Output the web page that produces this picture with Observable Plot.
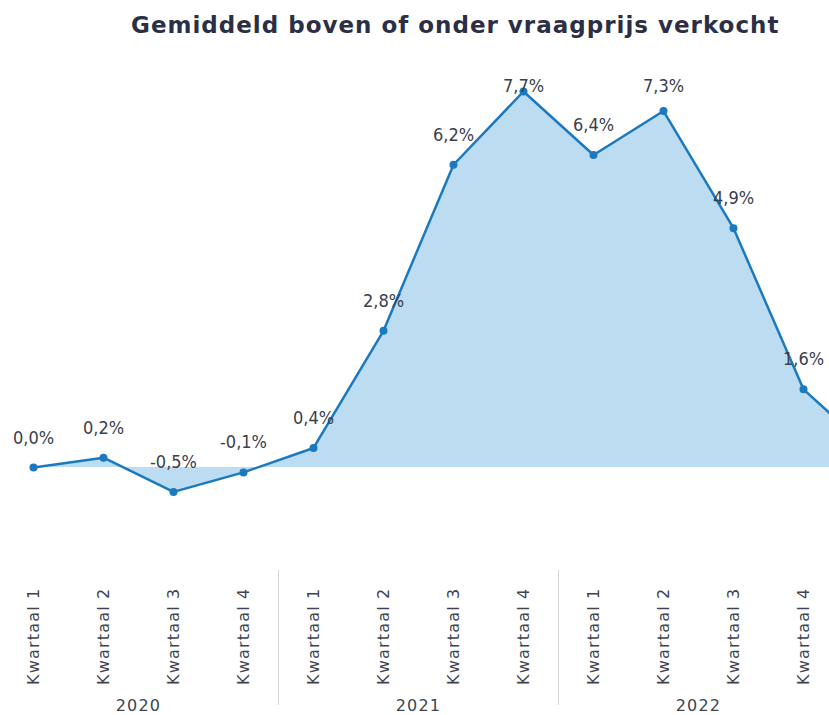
<!DOCTYPE html>
<html>
<head>
<meta charset="utf-8">
<script src="https://cdn.jsdelivr.net/npm/d3@7"></script>
<script src="https://cdn.jsdelivr.net/npm/@observablehq/plot@0.6"></script>
<style>
  html, body { margin: 0; padding: 0; background: white; overflow: hidden; }
  #title {
    height: 55px; line-height: 51px; padding-left: 131px;
    font-family: "DejaVu Sans", sans-serif; font-weight: bold; font-size: 23px;
    letter-spacing: 1px; color: #2b2f45; white-space: nowrap;
  }
  svg [aria-label="x-axis tick label"] text { letter-spacing: 1.2px; }
</style>
</head>
<body>
<div id="title">Gemiddeld boven of onder vraagprijs verkocht</div>
<div id="chart"></div>
<script>
// Data (2020 K1 … 2023 K1; last point lies beyond the right edge)
const quarters = ["Kwartaal 1","Kwartaal 2","Kwartaal 3","Kwartaal 4",
                  "Kwartaal 1","Kwartaal 2","Kwartaal 3","Kwartaal 4",
                  "Kwartaal 1","Kwartaal 2","Kwartaal 3","Kwartaal 4",
                  "Kwartaal 1"];
const years = ["2020","2020","2020","2020",
               "2021","2021","2021","2021",
               "2022","2022","2022","2022",
               "2023"];
const values = [0.0, 0.2, -0.5, -0.1, 0.4, 2.8, 6.2, 7.7, 6.4, 7.3, 4.9, 1.6, 0.3];

const data = values.map((v, i) => ({i, q: quarters[i], year: years[i], v}));
const visible = data.filter(d => d.i < 12);
const yearGroups = d3.groups(visible, d => d.year).map(([year, ds]) => ({year, x: d3.mean(ds, d => d.i)}));
const separators = visible.filter((d, k) => k > 0 && d.year !== visible[k - 1].year).map(d => d.i - 0.5);

const fmt = v => d3.format(".1f")(v).replace(".", ",").replace("−", "-") + "%";
const blue = "#1a79bf";
const numFont = "'DejaVu Sans Condensed', 'DejaVu Sans', sans-serif";
const axisFont = "'DejaVu Sans', sans-serif";

const yTop = 36, yZero = 412, yMax = d3.max(values);
const pxPerUnit = (yZero - yTop) / yMax;
const labelOffset = 24;
const labelCeil = yMax - labelOffset / pxPerUnit; // labels cannot rise above the top

const chart = Plot.plot({
  width: 829,
  height: 660,
  marginTop: 0, marginRight: 0, marginLeft: 0, marginBottom: 132,
  x: {type: "linear", domain: [0, 11], range: [33, 803], axis: null, label: null},
  y: {domain: [0, yMax], range: [yZero, yTop], axis: null, label: null},
  style: {background: "white", overflow: "hidden"},
  marks: [
    Plot.areaY(data, {x: "i", y1: 0, y2: "v", fill: "#bcdcf1", clip: true}),
    Plot.lineY(data, {x: "i", y: "v", stroke: blue, strokeWidth: 2.5, clip: true}),
    Plot.dot(data, {x: "i", y: "v", r: 4, fill: blue, stroke: "none", clip: true}),
    Plot.text(visible, {
      x: "i", y: d => Math.min(d.v, labelCeil), text: d => fmt(d.v),
      dy: -labelOffset, lineAnchor: "bottom", fontSize: 18, fontFamily: numFont, fill: "#3b3e4c"
    }),
    Plot.axisX({
      ticks: visible.map(d => d.i), tickFormat: i => quarters[i], label: null,
      tickRotate: -90, tickSize: 0, tickPadding: 4,
      fontSize: 16, fontFamily: axisFont, fill: "#404350"
    }),
    Plot.axisX({
      ticks: separators, tickFormat: () => "", tickSize: 135, dy: -13, label: null,
      stroke: "#d6d6d6", strokeWidth: 1
    }),
    Plot.axisX({
      ticks: yearGroups.map(d => d.x), tickFormat: x => yearGroups.find(g => g.x === x).year,
      label: null, tickSize: 0, tickPadding: 116, fontSize: 16, fontFamily: axisFont, fill: "#404350"
    })
  ]
});
document.getElementById("chart").append(chart);
</script>
</body>
</html>
